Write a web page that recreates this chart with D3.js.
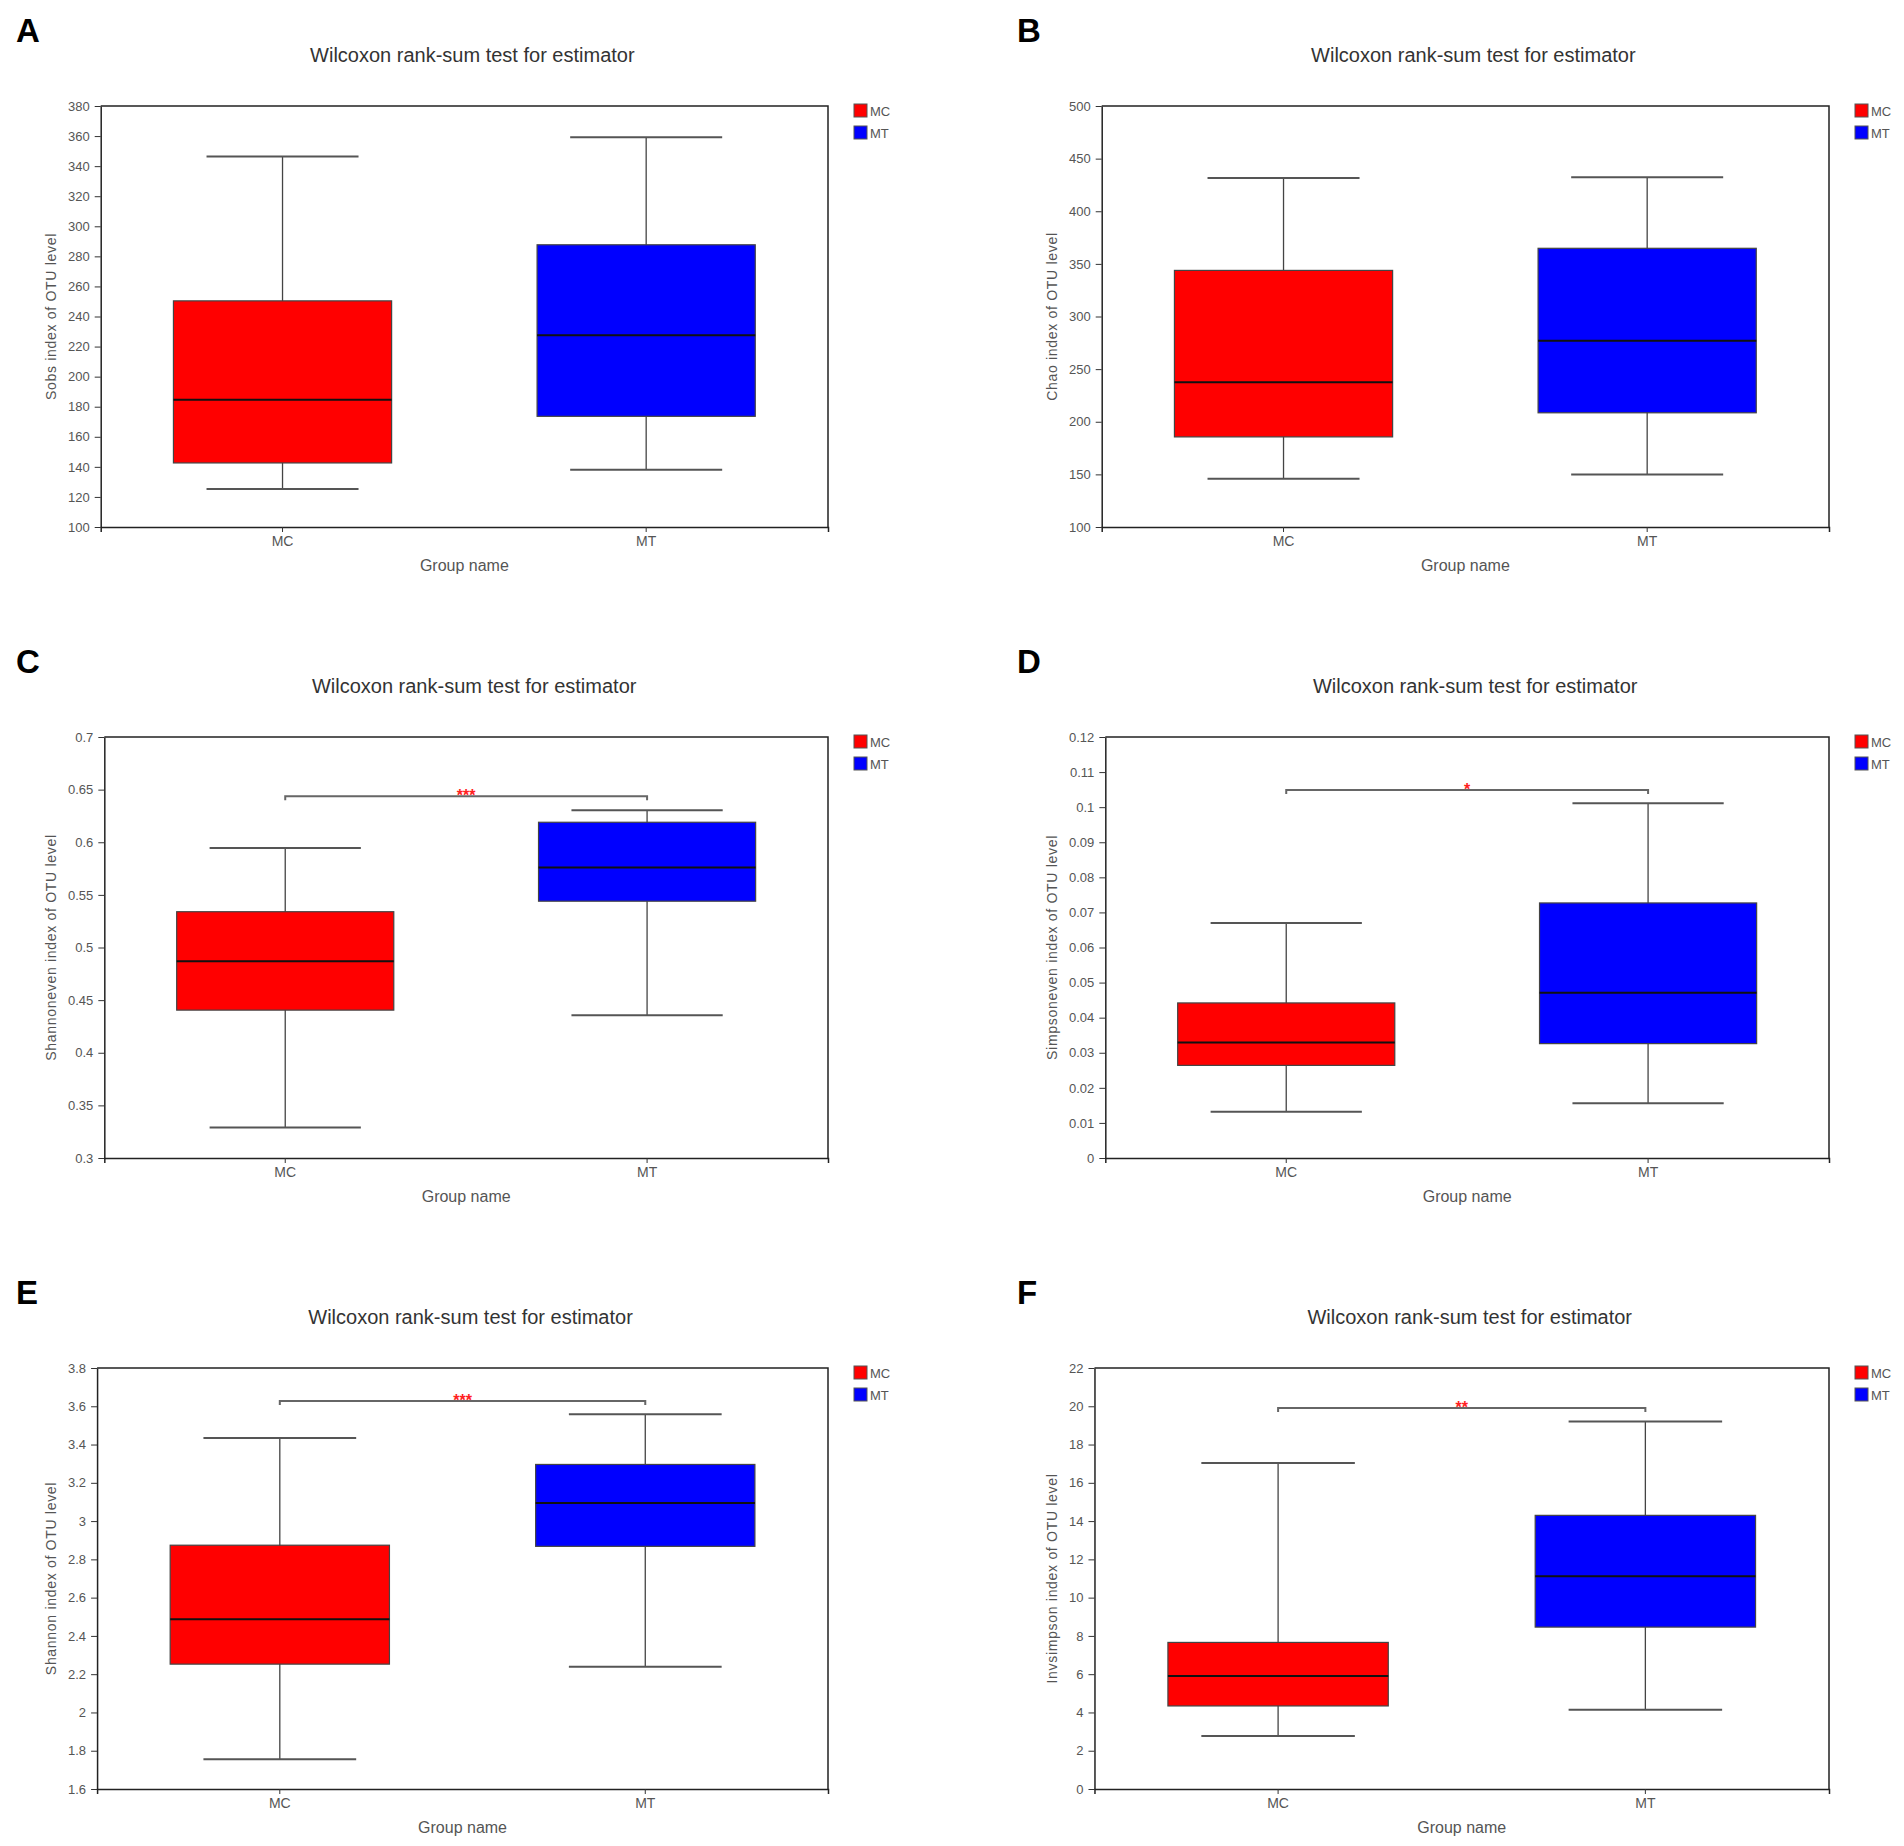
<!DOCTYPE html>
<html>
<head>
<meta charset="utf-8">
<script src="https://cdn.jsdelivr.net/npm/d3@7"></script>
<style>
  body { margin: 0; background: #fff; }
  text { font-family: "Liberation Sans", Arial, sans-serif; }
</style>
</head>
<body>
<div id="chart"></div>
<script>
// groups and colours
const groups = ["MC", "MT"];
const groupColors = ["#ff0000", "#0000ff"];

const panelLetters = ["A", "B", "C", "D", "E", "F"];
const yTitles = [
  "Sobs index of OTU level",
  "Chao index of OTU level",
  "Shannoneven index of OTU level",
  "Simpsoneven index of OTU level",
  "Shannon index of OTU level",
  "Invsimpson index of OTU level"
];

// box stats per group: [lower whisker, Q1, median, Q3, upper whisker]
const sobsMC = [125.3, 142.6, 184.7, 250.4, 346.4];
const sobsMT = [138.1, 173.6, 227.5, 287.7, 359.2];
const chaoMC = [145.8, 185.6, 237.5, 343.8, 431.6];
const chaoMT = [150.0, 208.5, 276.9, 364.8, 432.4];
const shannonevenMC = [0.329, 0.4405, 0.487, 0.534, 0.5945];
const shannonevenMT = [0.4356, 0.544, 0.576, 0.619, 0.6305];
const simpsonevenMC = [0.0132, 0.0264, 0.0329, 0.0442, 0.0670];
const simpsonevenMT = [0.0156, 0.0326, 0.0471, 0.0727, 0.1011];
const shannonMC = [1.756, 2.2525, 2.487, 2.874, 3.4346];
const shannonMT = [2.239, 2.868, 3.0946, 3.296, 3.5577];
const invsimpsonMC = [2.77, 4.34, 5.90, 7.66, 17.04];
const invsimpsonMT = [4.14, 8.46, 11.12, 14.30, 19.21];

// y tick labels
const sobsTicks = [100, 120, 140, 160, 180, 200, 220, 240, 260, 280, 300, 320, 340, 360, 380];
const chaoTicks = [100, 150, 200, 250, 300, 350, 400, 450, 500];
const shannonevenTicks = [0.3, 0.35, 0.4, 0.45, 0.5, 0.55, 0.6, 0.65, 0.7];
const simpsonevenTicks = [0, 0.01, 0.02, 0.03, 0.04, 0.05, 0.06, 0.07, 0.08, 0.09, 0.1, 0.11, 0.12];
const shannonTicks = [1.6, 1.8, 2, 2.2, 2.4, 2.6, 2.8, 3, 3.2, 3.4, 3.6, 3.8];
const invsimpsonTicks = [0, 2, 4, 6, 8, 10, 12, 14, 16, 18, 20, 22];

// significance marks (null = none) and the bracket height in data units
const sigStars = [null, null, "***", "*", "***", "**"];
const sigHeight = [null, null, 0.6437, 0.1049, 3.628, 19.91];

const boxStats = [
  [sobsMC, sobsMT], [chaoMC, chaoMT],
  [shannonevenMC, shannonevenMT], [simpsonevenMC, simpsonevenMT],
  [shannonMC, shannonMT], [invsimpsonMC, invsimpsonMT]
];
const tickSets = [sobsTicks, chaoTicks, shannonevenTicks, simpsonevenTicks, shannonTicks, invsimpsonTicks];

const W = 1904, H = 1846;
const colStep = 1001, rowStep = 631;
const plotTop = 106, plotBottom = 527, plotRight = 828;

const svg = d3.select("#chart").append("svg")
  .attr("width", W)
  .attr("height", H);

// used to measure tick label widths, the plot's left edge follows them
const measure = svg.append("text").attr("font-size", 13).attr("visibility", "hidden");
function textWidth(s) {
  measure.text(s);
  return measure.node().getComputedTextLength();
}

const fmt = d3.format("~g");

function makeBoxPanel(canvas, ox, oy, i) {
  const g = canvas.append("g").attr("transform", `translate(${ox},${oy})`);
  const ticks = tickSets[i];
  const maxW = d3.max(ticks, t => textWidth(fmt(t)));
  const left = 68 + maxW + 11;

  const x = d3.scaleBand().domain(groups).range([left, plotRight]).padding(0);
  const y = d3.scaleLinear().domain([ticks[0], ticks[ticks.length - 1]]).range([plotBottom, plotTop]);
  const bw = x.bandwidth();

  // panel letter
  g.append("text")
    .attr("x", 16).attr("y", 42)
    .attr("font-size", 33).attr("font-weight", "bold")
    .attr("fill", "#000")
    .text(panelLetters[i]);

  // title
  g.append("text")
    .attr("x", (left + plotRight) / 2 + 8).attr("y", 62)
    .attr("text-anchor", "middle")
    .attr("font-size", 20).attr("fill", "#333")
    .text("Wilcoxon rank-sum test for estimator");

  // frame top + right
  g.append("path")
    .attr("d", `M${left},${plotTop}H${plotRight}V${plotBottom}`)
    .attr("fill", "none").attr("stroke", "#222").attr("stroke-width", 1.5);

  // boxes
  boxStats[i].forEach((s, k) => {
    const cx = x(groups[k]) + bw / 2;
    const cap = bw * 0.418, bx = bw * 0.6;
    g.append("line")
      .attr("x1", cx).attr("x2", cx)
      .attr("y1", y(s[4])).attr("y2", y(s[0]))
      .attr("stroke", "#444").attr("stroke-width", 1.3);
    [s[0], s[4]].forEach(v => {
      g.append("line")
        .attr("x1", cx - cap / 2).attr("x2", cx + cap / 2)
        .attr("y1", y(v)).attr("y2", y(v))
        .attr("stroke", "#555").attr("stroke-width", 2);
    });
    g.append("rect")
      .attr("x", cx - bx / 2).attr("width", bx)
      .attr("y", y(s[3])).attr("height", y(s[1]) - y(s[3]))
      .attr("fill", groupColors[k])
      .attr("stroke", "#444").attr("stroke-width", 1.2);
    g.append("line")
      .attr("x1", cx - bx / 2).attr("x2", cx + bx / 2)
      .attr("y1", y(s[2])).attr("y2", y(s[2]))
      .attr("stroke", "#111").attr("stroke-width", 2);
  });

  // significance bracket
  if (sigStars[i]) {
    const x1 = x(groups[0]) + bw / 2, x2 = x(groups[1]) + bw / 2;
    const sy = y(sigHeight[i]);
    g.append("path")
      .attr("d", `M${x1},${sy + 4}V${sy}H${x2}V${sy + 4}`)
      .attr("fill", "none").attr("stroke", "#666").attr("stroke-width", 2);
    g.append("text")
      .attr("x", (x1 + x2) / 2).attr("y", sy + 5)
      .attr("text-anchor", "middle")
      .attr("font-size", 16).attr("font-weight", "bold")
      .attr("fill", "#ff2020")
      .text(sigStars[i]);
  }

  // axes
  const yAxis = g.append("g")
    .attr("transform", `translate(${left},0)`)
    .call(d3.axisLeft(y).tickValues(ticks).tickFormat(fmt).tickSize(6).tickSizeOuter(0).tickPadding(5));
  const xAxis = g.append("g")
    .attr("transform", `translate(0,${plotBottom})`)
    .call(d3.axisBottom(x).tickSize(5).tickSizeOuter(5).tickPadding(4));
  [yAxis, xAxis].forEach(a => {
    a.select(".domain").attr("stroke", "#222").attr("stroke-width", 1.5);
    a.selectAll(".tick line").attr("stroke", "#333");
    a.selectAll("text").attr("font-family", "\"Liberation Sans\", Arial, sans-serif").attr("fill", "#555");
  });
  yAxis.selectAll("text").attr("font-size", 13);
  xAxis.selectAll("text").attr("font-size", 14);

  // axis titles
  g.append("text")
    .attr("x", (left + plotRight) / 2).attr("y", 571)
    .attr("text-anchor", "middle")
    .attr("font-size", 16).attr("fill", "#555")
    .text("Group name");
  g.append("text")
    .attr("transform", `translate(51,${(plotTop + plotBottom) / 2}) rotate(-90)`)
    .attr("text-anchor", "middle").attr("dy", "0.35em")
    .attr("font-size", 14).attr("letter-spacing", 0.7).attr("fill", "#555")
    .text(yTitles[i]);

  // legend
  groups.forEach((name, k) => {
    g.append("rect")
      .attr("x", 854).attr("y", 104 + k * 22)
      .attr("width", 13).attr("height", 13)
      .attr("fill", groupColors[k])
      .attr("stroke", "#555").attr("stroke-width", 1);
    g.append("text")
      .attr("x", 870).attr("y", 116 + k * 22)
      .attr("font-size", 13).attr("fill", "#555")
      .text(name);
  });
}

for (let i = 0; i < 6; i++) {
  makeBoxPanel(svg, (i % 2) * colStep, Math.floor(i / 2) * rowStep, i);
}
measure.remove();
</script>
</body>
</html>
